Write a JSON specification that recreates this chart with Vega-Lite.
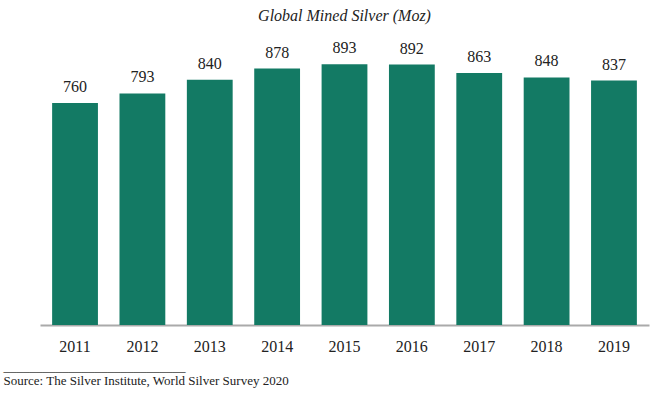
{
  "$schema": "https://vega.github.io/schema/vega-lite/v6.json",
  "width": 609,
  "height": 292,
  "autosize": "none",
  "padding": {"left": 40, "top": 33, "right": 6, "bottom": 68},
  "background": "white",
  "title": {
    "text": "Global Mined Silver (Moz)",
    "font": "Liberation Serif",
    "fontStyle": "italic",
    "fontWeight": "normal",
    "fontSize": 16,
    "color": "#222222",
    "anchor": "middle",
    "offset": 9
  },
  "config": {"view": {"stroke": null}},
  "data": {
    "values": [
      {"year": "2011", "value": 760},
      {"year": "2012", "value": 793},
      {"year": "2013", "value": 840},
      {"year": "2014", "value": 878},
      {"year": "2015", "value": 893},
      {"year": "2016", "value": 892},
      {"year": "2017", "value": 863},
      {"year": "2018", "value": 848},
      {"year": "2019", "value": 837}
    ]
  },
  "encoding": {
    "x": {
      "field": "year",
      "type": "nominal",
      "scale": {"paddingInner": 0.32, "paddingOuter": 0.18},
      "axis": {
        "labelAngle": 0,
        "labelFont": "Liberation Serif",
        "labelFontSize": 16,
        "labelColor": "#222222",
        "labelPadding": 13,
        "ticks": false,
        "domainColor": "#aaaaaa",
        "domainWidth": 2,
        "title": ["____________________________", "Source: The Silver Institute, World Silver Survey 2020"],
        "titleFont": "Liberation Serif",
        "titleFontSize": 13,
        "titleFontWeight": "normal",
        "titleColor": "#222222",
        "titleAnchor": "start",
        "titleAlign": "left",
        "titleBaseline": "top",
        "titleLineHeight": 14,
        "titleX": -37,
        "titleY": 35.5
      }
    },
    "y": {
      "field": "value",
      "type": "quantitative",
      "scale": {"domain": [0, 1000]},
      "axis": null
    }
  },
  "layer": [
    {"mark": {"type": "bar", "color": "#137a64"}},
    {
      "mark": {
        "type": "text",
        "baseline": "alphabetic",
        "dy": -11,
        "font": "Liberation Serif",
        "fontSize": 16,
        "color": "#222222"
      },
      "encoding": {"text": {"field": "value", "type": "quantitative"}}
    }
  ]
}
